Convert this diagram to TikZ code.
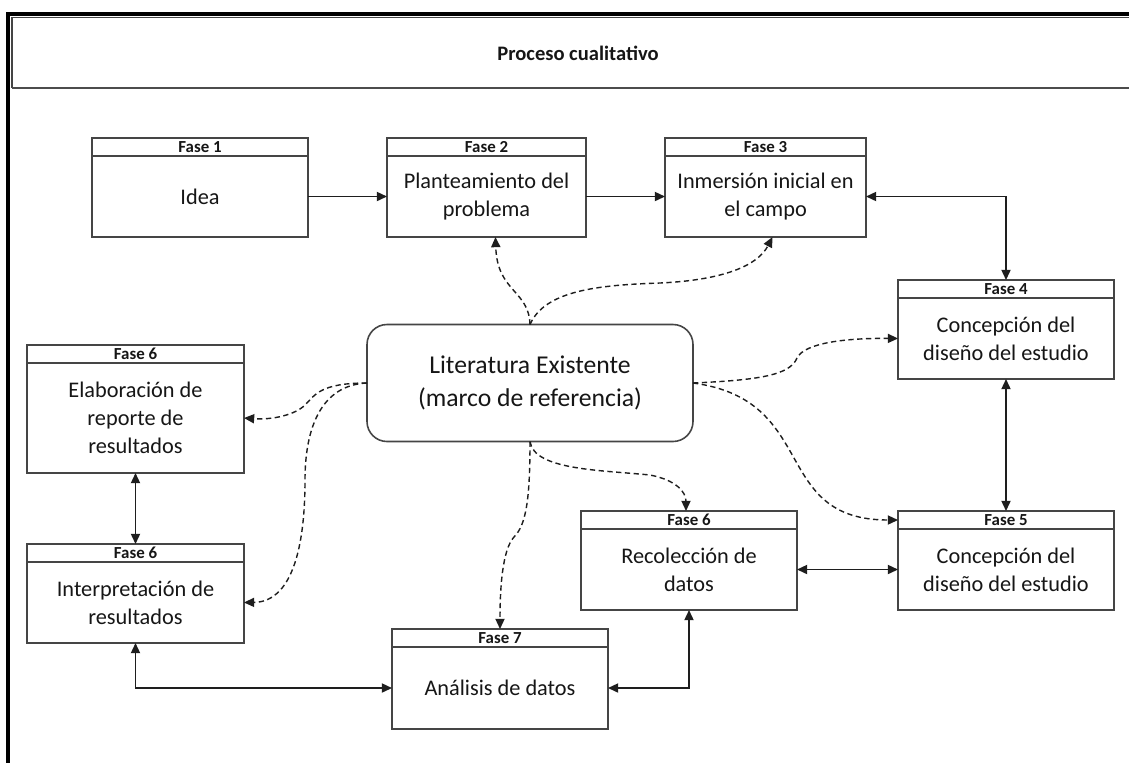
\documentclass[tikz,border=0pt]{standalone}
\usepackage{fontspec}
\setmainfont{Carlito}
\usetikzlibrary{arrows.meta,calc}

\definecolor{boxline}{HTML}{454545}
\definecolor{inkline}{HTML}{1E1E1E}
\definecolor{txt}{HTML}{161616}

\tikzset{
  phasehead/.style={draw=boxline, line width=0.9pt, fill=white, inner sep=0pt, outer sep=0pt,
    minimum height=18*0.02cm, font=\fontsize{9.6}{10}\selectfont\bfseries, text=txt},
  phasebody/.style={draw=boxline, line width=0.9pt, fill=white, inner sep=0pt, outer sep=0pt,
    align=center, font=\fontsize{12.7}{15.8}\selectfont, text=txt},
  conn/.style={draw=inkline, line width=0.9pt, >={Triangle[length=5.8pt,width=5.2pt]}},
  litlink/.style={draw=inkline, line width=0.8pt, dash pattern=on 3pt off 2pt,
    -{Triangle[length=5.8pt,width=5.2pt]}},
}

% name, x, y (top left, px), width, body height, heading, body text
\newcommand\phasebox[7]{%
  \node[phasehead, minimum width=#4*0.02cm, anchor=north west] (#1h) at (#2,#3) {#6};
  \node[phasebody, minimum width=#4*0.02cm, minimum height=#5*0.02cm, anchor=north west]
    (#1) at (#2,#3+18) {#7};
}

\begin{document}
\begin{tikzpicture}[x=0.02cm, y=-0.02cm]
\useasboundingbox (0,0) rectangle (1129,762);
\clip (0,0) rectangle (1129,762);

% outer frame and heading band
\draw[black, line width=2.4pt] (8,800) -- (8,14) -- (1150,14);
\draw[boxline, line width=0.6pt] (1150,17.5) -- (12,17.5) -- (12,88);
\draw[black!70, line width=1.3pt] (12,88) -- (1150,88);
\node[font=\fontsize{11.7}{13}\selectfont\bfseries, text=txt] (title) at (578,53) {Proceso cualitativo};

% phases
\phasebox{fa}{92}{138}{216}{81}{Fase 1}{Idea}
\phasebox{fb}{387}{138}{199}{81}{Fase 2}{Planteamiento del\\problema}
\phasebox{fc}{665}{138}{201}{81}{Fase 3}{Inmersión inicial en\\el campo}
\phasebox{fd}{898}{280}{216}{81}{Fase 4}{Concepción del\\diseño del estudio}
\phasebox{el}{27}{345}{217}{110}{Fase 6}{Elaboración de\\reporte de\\resultados}
\phasebox{ip}{27}{544}{217}{81}{Fase 6}{Interpretación de\\resultados}
\phasebox{rc}{581}{511}{216}{81}{Fase 6}{Recolección de\\datos}
\phasebox{fe}{898}{511}{216}{81}{Fase 5}{Concepción del\\diseño del estudio}
\phasebox{an}{392}{629}{216}{82}{Fase 7}{Análisis de datos}

% central literature box
\node[draw=boxline, line width=0.9pt, fill=white, rounded corners=20*0.02cm,
  minimum width=326*0.02cm, minimum height=117*0.02cm, inner sep=0pt, outer sep=0pt,
  align=center, font=\fontsize{14.6}{18.8}\selectfont, text=txt] (lit) at (530,383)
  {Literatura Existente\\(marco de referencia)};

% solid process links
\draw[conn, ->] (fa.east) -- (fb.west);
\draw[conn, ->] (fb.east) -- (fc.west);
\draw[conn, <->] (fc.east) -| (fdh.north);
\draw[conn, <->] (fd.south) -- (feh.north);
\draw[conn, <->] (rc.east) -- (fe.west);
\draw[conn, <->] (rc.south) |- (an.east);
\draw[conn, <->] (an.west) -| (ip.south);
\draw[conn, <->] (el.south) -- (iph.north);

% dashed links from the literature box
\draw[litlink] (lit.north) .. controls (529,290) and (497,292) .. ($(fb.south)+(9,0)$);
\draw[litlink] (lit.north) .. controls (545,290) and (600,285) .. (660,283)
  .. controls (725,280) and (758,265) .. ($(fc.south)+(7,0)$);
\draw[litlink] (lit.east) .. controls (760,380) and (790,375) .. (797,358)
  .. controls (805,342) and (850,338) .. (fd.west);
\draw[litlink] (lit.east) .. controls (820,400) and (770,520) .. (feh.west);
\draw[litlink] (lit.south) .. controls (534,470) and (600,470) .. (650,475)
  .. controls (676,480) and (686,492) .. ($(rch.north)+(-3,0)$);
\draw[litlink] (lit.south) .. controls (530,500) and (526,525) .. (514,537)
  .. controls (502,550) and (500,590) .. (anh.north);
\draw[litlink] (lit.west) .. controls (320,383) and (315,395) .. (305,405)
  .. controls (295,415) and (272,420) .. (el.east);
\draw[litlink] (lit.west) .. controls (320,385) and (305,430) .. (305,480)
  .. controls (305,560) and (287,602) .. (ip.east);
\end{tikzpicture}
\end{document}
